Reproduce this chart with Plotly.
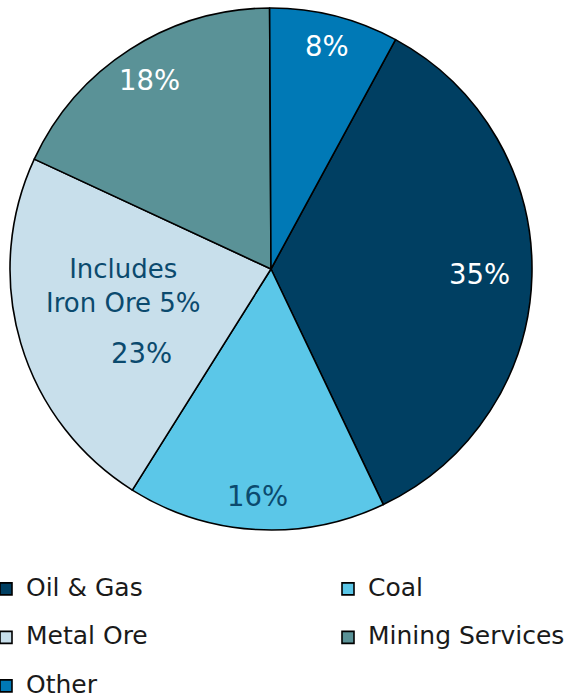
import math
import plotly.graph_objects as go

# ---- data ----
labels = ["Oil & Gas", "Coal", "Metal Ore", "Mining Services", "Other"]
values = [35, 16, 23, 18, 8]
pct_labels = ["35%", "16%", "23%", "18%", "8%"]
note_label = "Includes<br>Iron Ore 5%"
note_slice = "Metal Ore"

# ---- style ----
colors = ["#003F62", "#5BC7E8", "#C8DFEB", "#5A9297", "#0079B6"]
text_colors = ["#FFFFFF", "#0B4A6E", "#0B4A6E", "#FFFFFF", "#FFFFFF"]
label_angle_frac = [0.5, 0.5, 0.30, 0.5, 0.5]
label_radius_frac = [0.80, 0.87, 0.59, 0.86, 0.88]
note_angle_frac, note_radius_frac = 0.62, 0.567
rotation = 28.5

W, H = 700, 697          # page window shows the left 577 px
plot_h = 560             # plot area height (legend sits below it)
pie_left, pie_right, pie_top, pie_bottom = 10, 532, 8, 530
leg_font = 17.5
legend_labels = ['<span style="font-size:25px">%s</span><br> ' % l for l in labels]

fig = go.Figure(go.Pie(
    labels=legend_labels,
    values=values,
    textinfo="none",
    marker=dict(colors=colors, line=dict(color="#000000", width=1.6)),
    sort=False,
    direction="clockwise",
    rotation=rotation,
    hoverinfo="skip",
    domain=dict(x=[pie_left / W, pie_right / W],
                y=[1 - pie_bottom / plot_h, 1 - pie_top / plot_h]),
))

# slice labels placed from the data's cumulative angles
cx = (pie_left + pie_right) / 2
cy = (pie_top + pie_bottom) / 2
R = (pie_right - pie_left) / 2
total = float(sum(values))


def to_paper(angle_deg, rfrac):
    a = math.radians(angle_deg)
    px = cx + rfrac * R * math.sin(a)
    py = cy - rfrac * R * math.cos(a)
    return px / W, (plot_h - py) / plot_h


cum = 0.0
annotations = []
for i, v in enumerate(values):
    a0 = rotation + 360 * cum / total
    a1 = rotation + 360 * (cum + v) / total
    cum += v
    x, y = to_paper(a0 + label_angle_frac[i] * (a1 - a0), label_radius_frac[i])
    annotations.append(dict(x=x, y=y, xref="paper", yref="paper", text=pct_labels[i],
                            xanchor="center", yanchor="middle", showarrow=False,
                            font=dict(family="DejaVu Sans", size=27.5, color=text_colors[i])))
    if labels[i] == note_slice:
        x, y = to_paper(a0 + note_angle_frac * (a1 - a0), note_radius_frac)
        annotations.append(dict(x=x, y=y, xref="paper", yref="paper", text=note_label,
                                xanchor="center", yanchor="middle", showarrow=False,
                                font=dict(family="DejaVu Sans", size=26, color=text_colors[i])))

legend_top_px = 571
fig.update_layout(
    width=W, height=H,
    margin=dict(l=0, r=0, t=0, b=H - plot_h, autoexpand=False),
    paper_bgcolor="white",
    plot_bgcolor="white",
    showlegend=True,
    annotations=annotations,
    legend=dict(
        orientation="h",
        x=-14 / W, xanchor="left",
        y=(plot_h - legend_top_px) / plot_h, yanchor="top",
        entrywidth=297,
        font=dict(family="DejaVu Sans", size=leg_font, color="#1A1A1A"),
        valign="top",
        bgcolor="rgba(0,0,0,0)",
    ),
)

fig.write_html(
    "out.html",
    post_script="document.body.style.margin='0';document.body.style.overflow='hidden';",
)
